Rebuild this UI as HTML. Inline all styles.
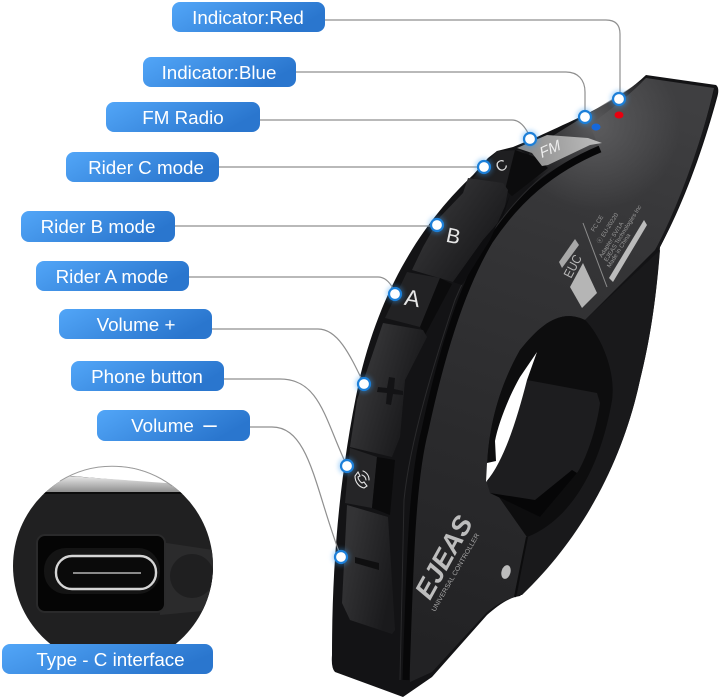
<!DOCTYPE html>
<html><head><meta charset="utf-8"><style>
html,body{margin:0;padding:0;background:#fff}
svg{display:block}
.l{font-family:"Liberation Sans",sans-serif;font-size:18.8px;fill:#fff;text-anchor:middle}
.c{fill:none;stroke:#8f8f8f;stroke-width:1.2}
.d{fill:#fff;stroke:#1c7fd8;stroke-width:2.2}
.g{fill:#3a9cf0;opacity:.35;filter:url(#b1)}
</style></head><body>
<svg width="720" height="698" viewBox="0 0 720 698" xmlns="http://www.w3.org/2000/svg">
<defs>
<linearGradient id="lb" x1="0" y1="0" x2="1" y2=".35"><stop offset="0" stop-color="#52a6f8"/><stop offset="1" stop-color="#2a76ce"/></linearGradient>
<linearGradient id="face" gradientUnits="userSpaceOnUse" x1="640" y1="90" x2="450" y2="660"><stop offset="0" stop-color="#3f3f41"/><stop offset=".3" stop-color="#343436"/><stop offset=".65" stop-color="#2a2a2c"/><stop offset="1" stop-color="#222224"/></linearGradient>
<radialGradient id="glow" gradientUnits="userSpaceOnUse" cx="595" cy="125" r="85"><stop offset="0" stop-color="#5c5c5e"/><stop offset="1" stop-color="#5c5c5e" stop-opacity="0"/></radialGradient>
<linearGradient id="btn" gradientUnits="userSpaceOnUse" x1="400" y1="210" x2="470" y2="260"><stop offset="0" stop-color="#3c3c3e"/><stop offset="1" stop-color="#1e1e20"/></linearGradient>
<linearGradient id="btn2" gradientUnits="userSpaceOnUse" x1="350" y1="380" x2="420" y2="400"><stop offset="0" stop-color="#3a3a3c"/><stop offset="1" stop-color="#171719"/></linearGradient>
<linearGradient id="btn3" gradientUnits="userSpaceOnUse" x1="345" y1="560" x2="395" y2="570"><stop offset="0" stop-color="#333335"/><stop offset="1" stop-color="#1a1a1c"/></linearGradient>
<linearGradient id="fm" gradientUnits="userSpaceOnUse" x1="520" y1="150" x2="600" y2="140"><stop offset="0" stop-color="#8a8a8a"/><stop offset="1" stop-color="#bdbdbd"/></linearGradient>
<linearGradient id="insetTop" x1="0" y1="0" x2="0" y2="1"><stop offset="0" stop-color="#f4f4f4"/><stop offset="1" stop-color="#8f8f8f"/></linearGradient>
<filter id="b1" x="-50%" y="-50%" width="200%" height="200%"><feGaussianBlur stdDeviation="2"/></filter>
<clipPath id="ic"><circle cx="113" cy="566" r="100"/></clipPath>
<clipPath id="fc"><path d="M646,78 L714,88 C700,150 675,215 655,250 L585,320 L500,300 L530,150 Z"/></clipPath>
</defs>

<!-- device silhouette -->
<path fill="#131315" d="M646,75 L716,85 Q720,88 717,98 C700,160 680,210 660,247 C656,300 650,340 640,380 C625,450 590,530 520,596 L515,597 C505,600 495,608 487,615 L432,677 L403,697 L335,672 Q331,668 332,655 C332,560 340,470 360,377 C382,285 425,220 473,175 L488,158 L497,151 L513,147 L537,137 C585,115 620,100 646,75 Z"/>
<!-- face incl. top surface -->
<path fill="url(#face)" d="M646,78 L714,88 C700,150 675,215 655,250 L585,320 C560,308 540,325 520,350 C500,385 486,430 487,480 L527,537 L515,597 C503,600 495,606 487,612 L432,672 L410,682 C405,560 410,480 425,430 C435,375 460,290 490,240 C515,205 550,170 600,150 L590,125 C610,110 630,95 646,78 Z"/>
<rect x="500" y="60" width="220" height="160" fill="url(#glow)" clip-path="url(#fc)"/>
<path fill="none" stroke="#18181a" stroke-width="3" d="M716,90 C700,150 680,205 658,248"/>
<!-- clamp -->
<path fill="#19191b" d="M660,250 C656,300 650,340 640,380 C625,450 590,530 522,595 L517,595 L527,537 C570,520 600,470 612,400 C616,370 600,335 585,320 Z"/>
<path fill="#0d0d0e" d="M585,320 C560,308 540,325 520,350 C500,385 486,430 487,480 L527,537 C570,520 600,470 612,400 C616,370 600,335 585,320 Z"/>
<!-- pad -->
<path fill="#1d1d1f" d="M527,380 L597,393 L600,403 C595,440 580,470 577,473 L540,517 L490,493 L487,483 C505,450 515,410 527,380 Z"/>
<path fill="#060607" d="M490,493 L540,517 L577,473 L572,470 L535,500 Z"/>
<!-- hole -->
<path fill="#fff" d="M537,352 L520,377 C508,398 498,425 495,441 L496,461 L487,463 L486,482 C505,460 518,415 527,380 Z"/>

<!-- inner black band -->
<path fill="none" stroke="#070708" stroke-width="7" d="M600,149 C550,170 517,200 490,240 C460,290 440,360 425,430 C412,480 410,560 406,680"/>
<path fill="none" stroke="#2a2a2c" stroke-width="1" d="M553,168 C513,198 478,245 455,300 C435,360 410,440 404,500 L400,680"/>

<!-- buttons -->
<path fill="#1f1f21" d="M497,151 L520,150 L535,160 L540,172 L510,190 L505,195 L473,178 Z"/>
<path fill="#0c0c0d" d="M515,150 L538,158 L548,168 L512,196 L505,190 Z"/>
<path fill="url(#btn)" d="M468,178 L503,183 L508,190 L503,217 L483,240 L453,282 L412,270 L423,247 L440,217 L463,193 Z"/>
<path fill="#0e0e10" d="M453,282 L483,240 L503,217 L510,195 L490,240 L462,285 Z"/>
<path fill="#222224" d="M407,272 L440,278 L420,327 L385,318 Z"/>
<path fill="#0b0b0c" d="M440,278 L452,284 L425,335 L420,327 Z"/>
<path fill="url(#btn2)" d="M383,323 L423,330 L427,337 L405,380 L400,437 L392,457 L350,447 L357,400 Z"/>
<path fill="#252527" d="M350,448 L377,457 L372,508 L345,503 Z"/>
<path fill="#0a0a0b" d="M377,457 L395,460 L390,515 L372,508 Z"/>
<path fill="url(#btn3)" d="M347,505 L388,517 L395,630 L392,634 L350,620 L342,603 Z"/>

<!-- FM button -->
<path fill="url(#fm)" d="M517,148 L547,135 L588,138 L602,143 L590,145 L548,165 L542,166 L532,153 Z"/>
<text transform="translate(551,154) rotate(-24) skewX(-15)" font-family="'Liberation Sans',sans-serif" font-size="15" fill="#eee" text-anchor="middle">FM</text>
<text transform="translate(504,170) rotate(-30)" font-family="'Liberation Sans',sans-serif" font-size="15" fill="#ddd" text-anchor="middle">C</text>
<text transform="translate(452,243) rotate(12)" font-family="'Liberation Sans',sans-serif" font-size="21" fill="#e6e6e6" text-anchor="middle">B</text>
<text transform="translate(411,306) rotate(10)" font-family="'Liberation Sans',sans-serif" font-size="23" fill="#e6e6e6" text-anchor="middle">A</text>
<!-- plus -->
<path fill="#131315" d="M378,387 L387,388 L389,377 L395,378 L394,389 L403,391 L403,395 L393,394 L391,405 L386,404 L387,393 L377,392 Z"/>
<!-- phone icon -->
<g fill="none" stroke="#e5e5e5" stroke-width="1.1" stroke-linecap="round">
<path d="M355,476 C355,482 359,487 364,488 L367,486 L364,482 L362,483 C360,482 358,479 358,477 L360,476 L358,472 Z"/>
<path d="M362,475 A6,6 0 0 1 366,480"/><path d="M363,471 A9,9 0 0 1 369,480"/>
</g>
<!-- minus -->
<path fill="#0f0f10" d="M355,557 L379,563 L379,570 L355,563 Z"/>

<!-- LEDs -->
<ellipse cx="619" cy="115" rx="4.5" ry="3.5" fill="#e8000f"/>
<ellipse cx="596" cy="127" rx="4.5" ry="3.5" fill="#1668dc"/>

<!-- rating label -->
<g>
<path fill="#b5b5b5" d="M570,287 L583,263 L597,293 L582,308 Z"/>
<path fill="#a8a8a8" d="M559,262 L575,239 L579,245 L562,268 Z"/>
<text transform="translate(571,279) rotate(-62)" font-family="'Liberation Sans',sans-serif" font-size="13" fill="#b8b8b8" textLength="24" lengthAdjust="spacingAndGlyphs">EUC</text>
<line x1="583" y1="223" x2="607" y2="287" stroke="#8c8c8c" stroke-width="1"/>
<path fill="#bcbcbc" d="M609,278 L644,220 L647,225 L613,282 Z"/>
<g font-family="'Liberation Sans',sans-serif" font-size="6" fill="#9a9a9a">
<text transform="translate(594,232) rotate(-58)">FC CE</text>
<text transform="translate(600,244) rotate(-58)">ⓔ EU-20220</text>
<text transform="translate(602,258) rotate(-58)">Adapter: 5V/1A</text>
<text transform="translate(607,262) rotate(-58)">EJEAS Technologies Inc</text>
<text transform="translate(610,268) rotate(-58)">Made in China</text>
</g>
</g>

<!-- logo -->
<text transform="translate(430,601) rotate(-61)" font-family="'Liberation Sans',sans-serif" font-style="italic" font-weight="bold" font-size="27" fill="#bdbdbd" textLength="90" lengthAdjust="spacingAndGlyphs">EJEAS</text>
<text transform="translate(435,612) rotate(-60)" font-family="'Liberation Sans',sans-serif" font-size="6.6" fill="#a5a5a5" textLength="89" lengthAdjust="spacingAndGlyphs">UNIVERSAL CONTROLLER</text>
<!-- pivot -->
<path fill="none" stroke="#0c0c0d" stroke-width="2" d="M527,537 L515,597"/>
<ellipse cx="506" cy="572" rx="4.5" ry="7" fill="#bcbcbc" transform="rotate(15 506 572)"/>

<!-- connectors -->
<path class="c" d="M325,20 H606 Q620,20 620,34 V99"/>
<path class="c" d="M296,72 H566 C578,72 585,80 585,92 V115"/>
<path class="c" d="M260,120 H512 C520,120 526,128 530,137"/>
<path class="c" d="M219,167 H484"/>
<path class="c" d="M175,226 H437"/>
<path class="c" d="M189,277 H378 C386,277 391,284 395,292"/>
<path class="c" d="M212,329 H318 C338,329 350,355 364,384"/>
<path class="c" d="M224,379 H280 C320,379 325,420 347,466"/>
<path class="c" d="M250,427 H272 C310,427 315,490 341,557"/>

<!-- dots -->
<g>
<circle class="g" cx="619" cy="99" r="9"/><circle class="d" cx="619" cy="99" r="6"/>
<circle class="g" cx="585" cy="117" r="9"/><circle class="d" cx="585" cy="117" r="6"/>
<circle class="g" cx="530" cy="139" r="9"/><circle class="d" cx="530" cy="139" r="6"/>
<circle class="g" cx="484" cy="167" r="9"/><circle class="d" cx="484" cy="167" r="6"/>
<circle class="g" cx="437" cy="225" r="9"/><circle class="d" cx="437" cy="225" r="6"/>
<circle class="g" cx="395" cy="294" r="9"/><circle class="d" cx="395" cy="294" r="6"/>
<circle class="g" cx="364" cy="384" r="9"/><circle class="d" cx="364" cy="384" r="6"/>
<circle class="g" cx="347" cy="466" r="9"/><circle class="d" cx="347" cy="466" r="6"/>
<circle class="g" cx="341" cy="557" r="9"/><circle class="d" cx="341" cy="557" r="6"/>
</g>

<!-- inset circle -->
<g clip-path="url(#ic)">
<rect x="13" y="466" width="200" height="200" fill="#202021"/>
<path fill="#ffffff" d="M13,466 H213 V488 L60,475 L13,480 Z"/>
<path fill="url(#insetTop)" d="M40,474 L180,484 L190,492 L40,492 Z"/>
<rect x="13" y="492" width="200" height="2" fill="#0c0c0c"/>
<path fill="#2b2b2c" d="M160,542 L213,550 V610 L160,615 Z"/>
<rect x="37" y="535" width="128" height="77" rx="8" fill="#050505" stroke="#2a2a2b" stroke-width="2"/>
<rect x="44" y="548" width="116" height="46" rx="22" fill="#141414"/>
<rect x="56" y="556" width="100" height="33" rx="16" fill="#0a0a0a" stroke="#d5d5d5" stroke-width="2.4"/>
<line x1="73" y1="573" x2="141" y2="573" stroke="#b5b5b5" stroke-width="1.6"/>
<circle cx="192" cy="576" r="22" fill="#1f1f20"/>
</g>
<path fill="none" stroke="#9a9a9a" stroke-width="1" d="M60,481 A100,100 0 0 1 172,486"/>

<!-- labels -->
<g fill="url(#lb)">
<rect x="172" y="2" width="153" height="30" rx="8"/>
<rect x="143" y="57" width="153" height="30" rx="8"/>
<rect x="106" y="102" width="154" height="30" rx="8"/>
<rect x="66" y="152" width="153" height="30" rx="8"/>
<rect x="21" y="211" width="154" height="31" rx="8"/>
<rect x="36" y="261" width="153" height="30" rx="8"/>
<rect x="59" y="309" width="153" height="30" rx="8"/>
<rect x="71" y="361" width="153" height="30" rx="8"/>
<rect x="97" y="410" width="153" height="31" rx="8"/>
<rect x="2" y="644" width="211" height="30" rx="8"/>
</g>
<text class="l" x="248" y="24">Indicator:Red</text>
<text class="l" x="219" y="79">Indicator:Blue</text>
<text class="l" x="183" y="124">FM Radio</text>
<text class="l" x="146" y="174">Rider C mode</text>
<text class="l" x="98" y="233">Rider B mode</text>
<text class="l" x="112" y="283">Rider A mode</text>
<text class="l" x="136" y="331">Volume +</text>
<text class="l" x="147" y="383">Phone button</text>
<text class="l" x="162.5" y="432">Volume</text>
<text class="l" x="210" y="432.5" style="font-size:24px">–</text>
<text class="l" x="110.5" y="666">Type - C interface</text>
</svg>
</body></html>
